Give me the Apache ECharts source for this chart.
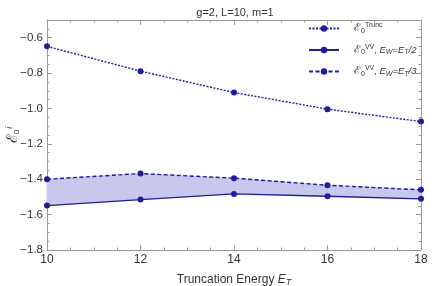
<!DOCTYPE html>
<html><head><meta charset="utf-8">
<script src="https://cdn.jsdelivr.net/npm/echarts@6/dist/echarts.min.js"></script>
<style>html,body{margin:0;padding:0;background:#fff}#c{width:440px;height:286px}</style>
</head><body><div id="c"></div>
<script>
const energies = [10, 12, 14, 16, 18];
const truncValues = [-0.649, -0.789, -0.910, -1.004, -1.074];
const vvHalfValues = [-1.549, -1.515, -1.483, -1.496, -1.511];
const vvThirdValues = [-1.400, -1.368, -1.394, -1.434, -1.460];
const titleText = 'g=2, L=10, m=1';
const seriesNames = ['trunc', 'half', 'third'];

const col = '#1c1ca6';
const frame = '#9a9a9a';
const font = 'Liberation Sans, Arial, sans-serif';

const pts = v => energies.map((e, i) => [e, v[i]]);
const bandData = energies.slice(0, -1).map((e, i) => [i]);

const rich = {
  sc: {fontFamily: 'DejaVu Serif', fontSize: 11, color: '#333'},
  sub: {fontSize: 7, color: '#333', padding: [5, 0, 0, 0]},
  sup: {fontSize: 7, color: '#333', padding: [0, 0, 6, 0]},
  it: {fontStyle: 'italic', fontSize: 9.5, color: '#333'},
  isub: {fontStyle: 'italic', fontSize: 7, color: '#333', padding: [5, 0, 0, 0]},
  n: {fontSize: 9.5, color: '#333'}
};
const legendLabels = {
  trunc: '{sc|ℰ}{sub|0}{sup|Trunc}',
  half: '{sc|ℰ}{sub|0}{sup|VV}{n|, }{it|E}{isub|W}{n|=}{it|E}{isub|T}{it|/2}',
  third: '{sc|ℰ}{sub|0}{sup|VV}{n|, }{it|E}{isub|W}{n|=}{it|E}{isub|T}{it|/3}'
};

const axisCommon = {
  axisLine: {show: true, onZero: false, lineStyle: {color: frame, width: 1}},
  axisTick: {show: true, inside: true, length: 5, lineStyle: {color: frame}},
  minorTick: {show: true, splitNumber: 4, length: 2.5, lineStyle: {color: frame}},
  splitLine: {show: false}
};

const chart = echarts.init(document.getElementById('c'));
chart.setOption({
  animation: false,
  title: {text: titleText, left: 230, textAlign: 'center', top: 2,
    textStyle: {fontSize: 11, fontWeight: 'normal', color: '#333', fontFamily: font}},
  grid: {left: 47, right: 19, top: 20, bottom: 36, containLabel: false, outerBoundsMode: 'none'},
  legend: {
    data: seriesNames, left: 303, top: 17, orient: 'vertical', itemGap: 9,
    itemWidth: 30, itemHeight: 8, formatter: n => legendLabels[n],
    textStyle: {rich: rich, fontFamily: font, padding: [0, 0, 0, 10]}
  },
  xAxis: [
    Object.assign({type: 'value', min: 10, max: 18, interval: 2, position: 'bottom',
      name: '{n|Truncation Energy }{it|E}{isub|T}', nameLocation: 'middle', nameGap: 22,
      nameTextStyle: {rich: {n: {fontSize: 12, color: '#333', fontFamily: font},
        it: {fontSize: 12, fontStyle: 'italic', color: '#333', fontFamily: font},
        isub: {fontSize: 9, fontStyle: 'italic', color: '#333', padding: [6, 0, 0, 0], fontFamily: font}}},
      axisLabel: {fontSize: 12, color: '#333', margin: 4, fontFamily: font}}, axisCommon),
    Object.assign({type: 'value', min: 10, max: 18, interval: 2, position: 'top',
      axisLabel: {show: false}}, axisCommon)
  ],
  yAxis: [
    Object.assign({type: 'value', min: -1.8, max: -0.5, interval: 0.2, position: 'left',
      name: '{sc|ℰ}{sub|0}{sup|i}', nameLocation: 'middle', nameGap: 25, nameRotate: 90,
      nameMoveOverlap: false,
      nameTextStyle: {rich: {sc: {fontFamily: 'DejaVu Serif', fontSize: 15, color: '#333'},
        sub: {fontSize: 8, color: '#333', padding: [7, 0, 0, 0]},
        sup: {fontSize: 9, fontStyle: 'italic', color: '#333', padding: [0, 0, 8, 1]}}},
      axisLabel: {fontSize: 11.5, color: '#333', margin: 4, showMaxLabel: false, fontFamily: font,
        formatter: v => (v < 0 ? '\u2212' : '') + Math.abs(v).toFixed(1)}}, axisCommon),
    Object.assign({type: 'value', min: -1.8, max: -0.5, interval: 0.2, position: 'right',
      axisLabel: {show: false}}, axisCommon)
  ],
  series: [
    {type: 'custom', data: bandData, silent: true, z: 1,
      renderItem: (params, api) => {
        const i = api.value(0);
        const p = [
          api.coord([energies[i], vvThirdValues[i]]),
          api.coord([energies[i + 1], vvThirdValues[i + 1]]),
          api.coord([energies[i + 1], vvHalfValues[i + 1]]),
          api.coord([energies[i], vvHalfValues[i]])
        ];
        return {type: 'polygon', shape: {points: p},
          style: {fill: 'rgb(200,200,236)', stroke: 'rgb(200,200,236)', lineWidth: 0.6}};
      }},
    {name: 'trunc', type: 'line', data: pts(truncValues), symbol: 'circle', symbolSize: 6,
      itemStyle: {color: col}, lineStyle: {color: col, width: 1.4, type: [2, 1.5]}, z: 3},
    {name: 'half', type: 'line', data: pts(vvHalfValues), symbol: 'circle', symbolSize: 6,
      itemStyle: {color: col}, lineStyle: {color: col, width: 1.4, type: 'solid'}, z: 3},
    {name: 'third', type: 'line', data: pts(vvThirdValues), symbol: 'circle', symbolSize: 6,
      itemStyle: {color: col}, lineStyle: {color: col, width: 1.4, type: [4, 2.5]}, z: 3}
  ]
});
</script></body></html>
